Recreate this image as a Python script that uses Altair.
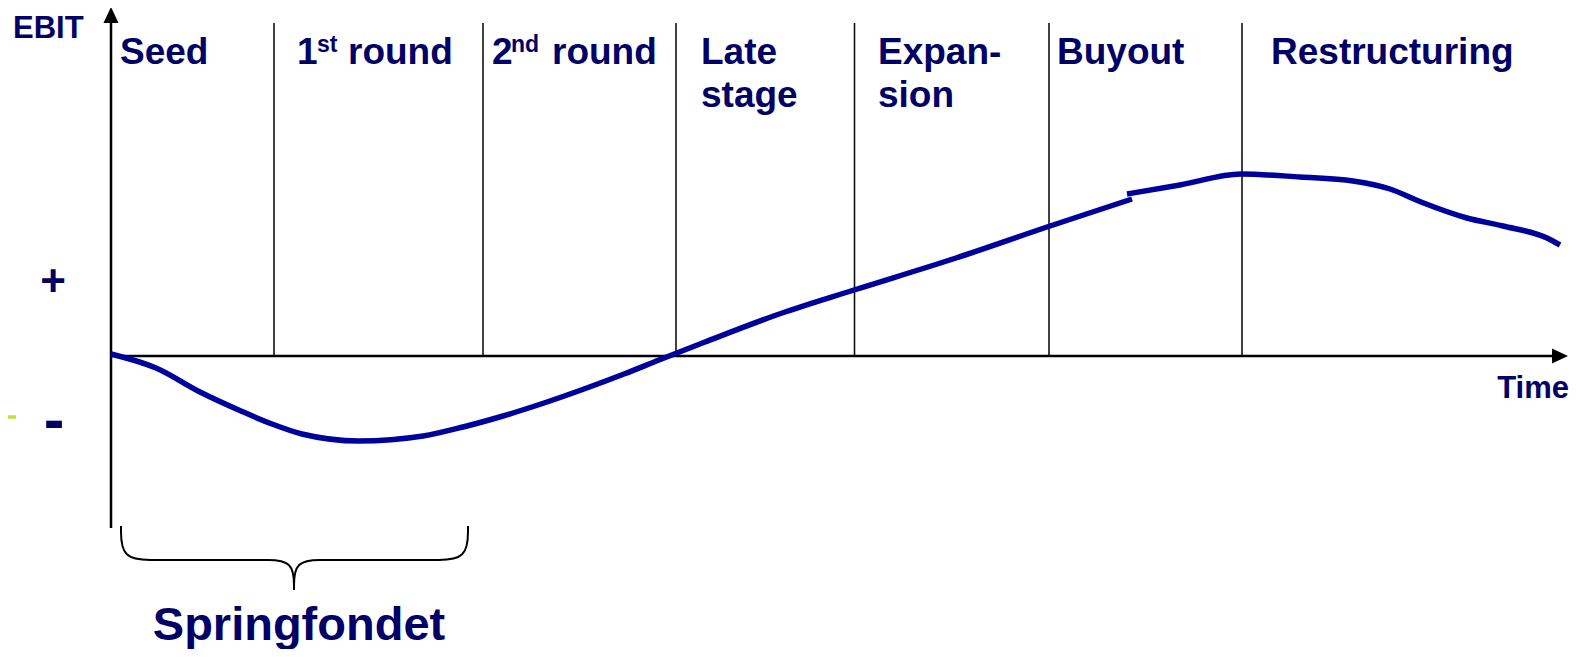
import altair as alt
import pandas as pd

# ---------------- data (time units / EBIT units) ----------------
curve_seg = ["a"] * 20 + ["b"] * 11
curve_t = [0.00, 0.45, 0.89, 1.30, 1.61, 1.91, 2.48, 3.12, 3.52, 3.92,
           4.33, 4.73, 5.13, 5.48, 5.94, 6.74, 7.43, 8.45, 9.39, 10.21,
           10.16, 10.69, 11.30, 11.89, 12.42, 12.79, 13.10, 13.56, 13.92, 14.36, 14.49]
curve_e = [0.02, -0.12, -0.36, -0.55, -0.68, -0.78, -0.85, -0.80, -0.71, -0.60,
           -0.47, -0.33, -0.18, -0.04, 0.14, 0.44, 0.66, 0.98, 1.30, 1.57,
           1.62, 1.71, 1.82, 1.79, 1.75, 1.67, 1.54, 1.38, 1.30, 1.18, 1.11]

stage_bounds = [1.63, 3.72, 5.65, 7.435, 9.38, 11.31]
stage_top = 3.33

stage_names_1 = ["Seed", "round", "round", "Late", "Expan-", "Buyout", "Restructuring"]
stage_t_1 = [0.09, 2.37, 4.41, 5.90, 7.67, 9.46, 11.60]
stage_names_2 = ["stage", "sion"]
stage_t_2 = [5.90, 7.67]
ordinal_digits = ["1", "2"]
ordinal_t = [1.86, 3.81]
ordinal_sup = ["st", "nd"]
ordinal_sup_t = [2.06, 4.00]

brace_seg = ["A", "A", "A", "B", "B", "C", "C", "C", "D", "D", "D", "E", "E", "F", "F", "F"]
brace_t = [0.10, 0.10, 0.45, 0.45, 1.52, 1.52, 1.83, 1.83, 1.83, 1.83, 2.14, 2.14, 3.22, 3.22, 3.57, 3.57]
brace_e = [-1.70, -2.04, -2.04, -2.04, -2.04, -2.04, -2.04, -2.34, -2.34, -2.04, -2.04, -2.04, -2.04, -2.04, -2.04, -1.70]

# ---------------- helpers ----------------
XS = alt.Scale(domain=[-1.03, 14.59], nice=False, zero=False)
YS = alt.Scale(domain=[-2.93, 3.48], nice=False, zero=False)
FONT = "Liberation Sans"
NAVY_TXT = "#000066"
NAVY_LINE = "#00009C"


def X(f="t"):
    return alt.X(f + ":Q", scale=XS, axis=None)


def Y(f="e"):
    return alt.Y(f + ":Q", scale=YS, axis=None)


curve_df = pd.DataFrame({"seg": curve_seg, "t": curve_t, "e": curve_e,
                         "i": list(range(len(curve_t)))})
bounds_df = pd.DataFrame({"t": stage_bounds, "e": [0.0] * len(stage_bounds),
                          "e2": [stage_top] * len(stage_bounds)})
brace_df = pd.DataFrame({"seg": brace_seg, "t": brace_t, "e": brace_e,
                         "i": list(range(len(brace_t)))})

separators = alt.Chart(bounds_df).mark_rule(color="#111111", strokeWidth=1.6).encode(
    x=X(), y=Y(), y2="e2:Q")

yaxis = alt.Chart(pd.DataFrame({"t": [0.0], "e": [-1.72], "e2": [3.35]})).mark_rule(
    color="black", strokeWidth=2.5).encode(x=X(), y=Y(), y2="e2:Q")
xaxis = alt.Chart(pd.DataFrame({"t": [0.0], "t2": [14.45], "e": [0.0]})).mark_rule(
    color="black", strokeWidth=2.5).encode(x=X(), x2="t2:Q", y=Y())

yarrow = alt.Chart(pd.DataFrame({"t": [0.0], "e": [3.41]})).mark_point(
    shape="M0,-1L0.94,1L-0.94,1Z", filled=True, size=256, color="black",
    opacity=1, strokeWidth=0).encode(x=X(), y=Y())
xarrow = alt.Chart(pd.DataFrame({"t": [14.49], "e": [0.0]})).mark_point(
    shape="M1,0L-1,-0.94L-1,0.94Z", filled=True, size=256, color="black",
    opacity=1, strokeWidth=0).encode(x=X(), y=Y())

curve = alt.Chart(curve_df).mark_line(
    color=NAVY_LINE, strokeWidth=5.5, interpolate="monotone", strokeCap="butt").encode(
    x=X(), y=Y(), detail="seg:N", order="i:Q")

brace = alt.Chart(brace_df).mark_line(
    color="black", strokeWidth=2, interpolate="basis").encode(
    x=X(), y=Y(), detail="seg:N", order="i:Q")

green = alt.Chart(pd.DataFrame({"t": [-1.03], "t2": [-0.95], "e": [-0.61]})).mark_rule(
    color="#C8DC3C", strokeWidth=3.5).encode(x=X(), x2="t2:Q", y=Y())


def text_layer(texts, ts, e, size, align="left"):
    df = pd.DataFrame({"label": texts, "t": ts, "e": [e] * len(texts)})
    return alt.Chart(df).mark_text(
        align=align, baseline="alphabetic", font=FONT, fontWeight="bold",
        fontSize=size, color=NAVY_TXT).encode(x=X(), y=Y(), text="label:N")


labels1 = text_layer(stage_names_1, stage_t_1, 2.92, 37)
labels2 = text_layer(stage_names_2, stage_t_2, 2.49, 37)
digits = text_layer(ordinal_digits, ordinal_t, 2.92, 37)
sups = text_layer(ordinal_sup, ordinal_sup_t, 3.04, 23)
ebit = text_layer(["EBIT"], [-0.98], 3.18, 31)
time_lbl = text_layer(["Time"], [14.58], -0.42, 31, align="right")
plus = text_layer(["+"], [-0.58], 0.60, 44, align="center")
minus = text_layer(["-"], [-0.57], -0.84, 62, align="center")
spring = text_layer(["Springfondet"], [1.88], -2.84, 47, align="center")

chart = alt.layer(
    separators, green, xaxis, yaxis, xarrow, yarrow, curve, brace,
    labels1, labels2, digits, sups, ebit, time_lbl, plus, minus, spring
).properties(
    width=1562, height=641, padding=0,
    autosize=alt.AutoSizeParams(type="none")
).configure_view(stroke=None)

chart.save("out.html", embed_options={"renderer": "svg", "actions": False})
